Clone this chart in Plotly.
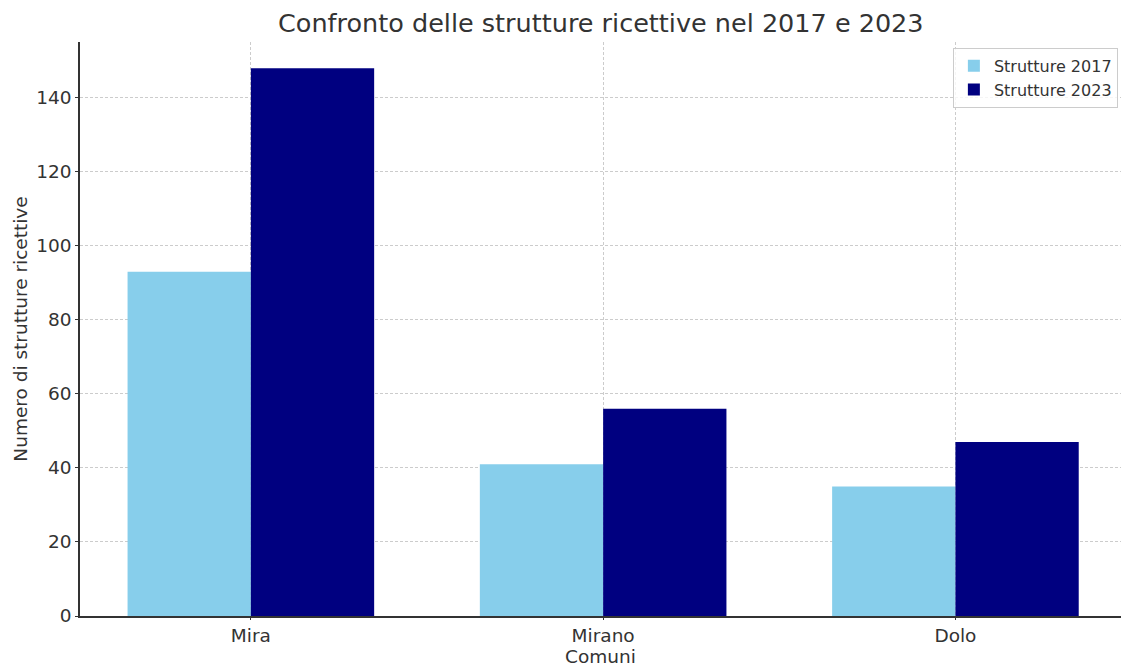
import plotly.graph_objects as go

comuni = ["Mira", "Mirano", "Dolo"]
strutture_2017 = [93, 41, 35]
strutture_2023 = [148, 56, 47]

fig = go.Figure()
fig.add_trace(go.Bar(x=comuni, y=strutture_2017, name="Strutture 2017",
                     marker=dict(color="#87CEEB", line=dict(width=0))))
fig.add_trace(go.Bar(x=comuni, y=strutture_2023, name="Strutture 2023",
                     marker=dict(color="#000080", line=dict(width=0))))

font_family = "DejaVu Sans"
fig.update_layout(
    width=1123, height=668,
    margin=dict(l=80, r=2, t=42, b=52),
    paper_bgcolor="white", plot_bgcolor="white",
    barmode="group", bargap=0.3, bargroupgap=0,
    font=dict(family=font_family, color="#333333", size=18),
    title=dict(text="Confronto delle strutture ricettive nel 2017 e 2023",
               x=0.535, xanchor="center", y=0.965, yanchor="middle",
               font=dict(size=25.5, color="#333333")),
    legend=dict(x=0.997, y=0.99, xanchor="right", yanchor="top",
                bgcolor="rgba(255,255,255,0.8)", bordercolor="#cccccc", borderwidth=1,
                font=dict(size=16, color="#333333"), tracegroupgap=0),
    xaxis=dict(
        title=dict(text="Comuni", font=dict(size=18.5), standoff=4),
        range=[-0.485, 2.47],
        showline=True, linecolor="#333333", linewidth=1.5,
        showgrid=True, gridcolor="#cccccc", griddash="3px,2px", gridwidth=0.8,
        ticks="outside", ticklen=2, tickcolor="#333333",
        tickfont=dict(size=18.5),
    ),
    yaxis=dict(
        title=dict(text="Numero di strutture ricettive", font=dict(size=18.5), standoff=4),
        range=[0, 155.1],
        dtick=20,
        showline=True, linecolor="#333333", linewidth=1.5,
        showgrid=True, gridcolor="#cccccc", griddash="3px,2px", gridwidth=0.8,
        ticks="outside", ticklen=3, tickcolor="#333333",
        tickfont=dict(size=18.5), zeroline=False,
    ),
)

fig.write_html("out.html")
